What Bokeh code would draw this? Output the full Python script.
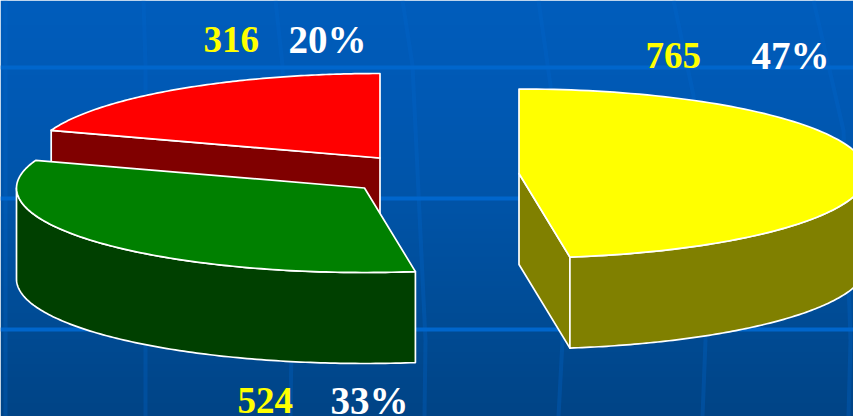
import numpy as np
from bokeh.core.properties import value
from bokeh.embed import file_html
from bokeh.models import Range1d
from bokeh.plotting import figure
from bokeh.resources import INLINE

# ---- data
categories = ["red", "green", "yellow"]
counts = [316, 524, 765]
percent_labels = ["20%", "33%", "47%"]
top_colors = ["#ff0000", "#008000", "#ffff00"]
side_colors = ["#800000", "#004000", "#808000"]

# ---- layout (reference pixels, y downwards)
W, H = 853, 416
RX, RY, DEPTH = 348, 84.5, 91
centers = {"red": (379.5, 157.5), "green": (364, 187.5), "yellow": (518.5, 173)}
TEXT_SHIFT = 13
count_pos = [(203, 52), (237, 413), (645, 68)]
pct_pos = [(288, 52), (330, 413), (751, 68)]
h_lines = [67, 198, 329]
v_lines = [
    [(5, 0), (5, 416)],
    [(143, 0), (145, 65), (145, 416)],
    [(275, 0), (282, 65), (291, 340), (290, 416)],
    [(402, 0), (412, 65), (425, 340), (424, 416)],
    [(538, 0), (550, 85), (562, 340), (558, 416)],
    [(673, 0), (693, 95), (705, 340), (702, 416)],
    [(813, 0), (843, 130), (850, 340), (848, 416)],
]
bg_stops_y = [0, 100, 200, 300, 416]
bg_stops_g = [93, 89, 84, 77, 68]
bg_stops_b = [188, 180, 168, 152, 134]


def fy(y):
    return H - np.asarray(y, dtype=float)


p = figure(width=853, height=416, output_backend="svg", toolbar_location=None,
           x_range=Range1d(0, W), y_range=Range1d(0, H), min_border=0,
           outline_line_color=None)
p.axis.visible = False
p.grid.visible = False

# background gradient
rows = np.arange(H) + 0.5
g = np.interp(H - rows, bg_stops_y, bg_stops_g).astype(np.uint32)
b = np.interp(H - rows, bg_stops_y, bg_stops_b).astype(np.uint32)
rgba = ((g << 8) | (b << 16) | (255 << 24)).reshape(H, 1)
p.image_rgba(image=[rgba], x=0, y=0, dw=W, dh=H)

# background lines
for pts in v_lines:
    xs, ys = zip(*pts)
    p.line(list(xs), fy(ys), line_color="#0066cc", line_alpha=0.3, line_width=4)
for y in h_lines:
    p.line([0, W], fy([y, y]), line_color="#0066cc", line_width=4)

# pie geometry from the values
total = sum(counts)
fr = np.cumsum([0] + counts) / total * 2 * np.pi
spans = {c: (fr[i], fr[i + 1]) for i, c in enumerate(categories)}


def pt(name, t):
    cx, cy = centers[name]
    return cx - RX * np.sin(t), cy - RY * np.cos(t)


def arc(name, a, b):
    t = np.linspace(a, b, 120)
    return pt(name, t)


def face(xs, ys, color):
    p.patch(list(xs), fy(ys), fill_color=color, line_color="white", line_width=1.7,
            line_join="round")


def wall(name, a, b, color):
    x, y = arc(name, a, b)
    face(np.r_[x, x[::-1]], np.r_[y, y[::-1] + DEPTH], color)


def cut(name, t, color):
    cx, cy = centers[name]
    x, y = pt(name, t)
    face([cx, x, x, cx], [cy, y, y + DEPTH, cy + DEPTH], color)


def top(name, color):
    a, b = spans[name]
    cx, cy = centers[name]
    x, y = arc(name, a, b)
    face(np.r_[cx, x], np.r_[cy, y], color)


cut("red", spans["red"][1], side_colors[0])
top("red", top_colors[0])
wall("green", np.pi / 2, spans["green"][1], side_colors[1])
top("green", top_colors[1])
cut("yellow", spans["yellow"][0], side_colors[2])
wall("yellow", spans["yellow"][0], 3 * np.pi / 2, side_colors[2])
top("yellow", top_colors[2])

# labels
order = [0, 1, 2]
p.text([count_pos[i][0] for i in order], fy([count_pos[i][1] - TEXT_SHIFT for i in order]),
       text=[str(counts[i]) for i in order], text_color="#ffff00",
       text_font=value("Liberation Serif"), text_font_style="bold", text_font_size="37px",
       text_align="left", text_baseline="alphabetic")
p.text([pct_pos[i][0] for i in order], fy([pct_pos[i][1] - TEXT_SHIFT for i in order]),
       text=[percent_labels[i] for i in order], text_color="#ffffff",
       text_font=value("Liberation Serif"), text_font_style="bold", text_font_size="39px",
       text_align="left", text_baseline="alphabetic")

open("out.html", "w").write(file_html(p, INLINE))
